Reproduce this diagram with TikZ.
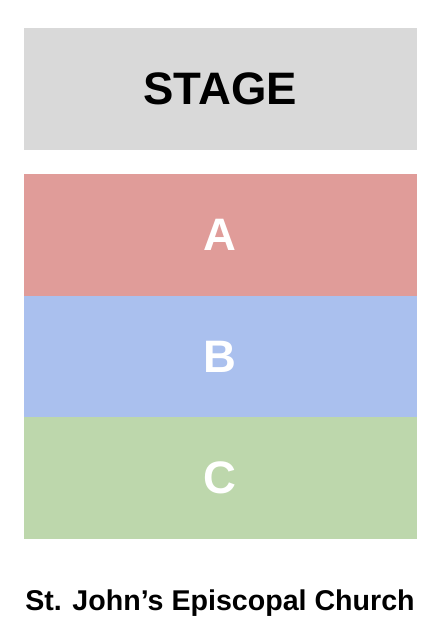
\documentclass[tikz,border=0pt]{standalone}
\usepackage{fontspec}
\setmainfont{Liberation Sans}
\usetikzlibrary{positioning}
\definecolor{stagegray}{HTML}{D9D9D9}
\definecolor{seatred}{HTML}{E09C99}
\definecolor{seatblue}{HTML}{AAC0EE}
\definecolor{seatgreen}{HTML}{BDD7AC}
\tikzset{
  block/.style={rectangle, inner sep=0pt, outer sep=0pt, minimum width=393.5pt, minimum height=121.7pt, font=\fontsize{45.5}{45.5}\selectfont\bfseries},
  section/.style={block, text=white},
}
\begin{document}
\begin{tikzpicture}[x=1pt,y=-1pt]
                    \useasboundingbox (0,0) rectangle (440,634);
                    % stage and seating sections
                    \node[block, fill=stagegray, anchor=north west] (stage) at (23.5,28) {STAGE};
                    \node[section, fill=seatred, below=24.3pt of stage] (secA) {A};
                    \node[section, fill=seatblue, below=-0.1pt of secA] (secB) {B};
                    \node[section, fill=seatgreen, below=-0.1pt of secB] (secC) {C};
                    % venue name
                    \node[anchor=base, inner sep=0pt, font=\fontsize{28.6}{28.6}\selectfont\bfseries] (venue) at (220,610.5) {St. John’s Episcopal Church};
                \end{tikzpicture}
\end{document}
